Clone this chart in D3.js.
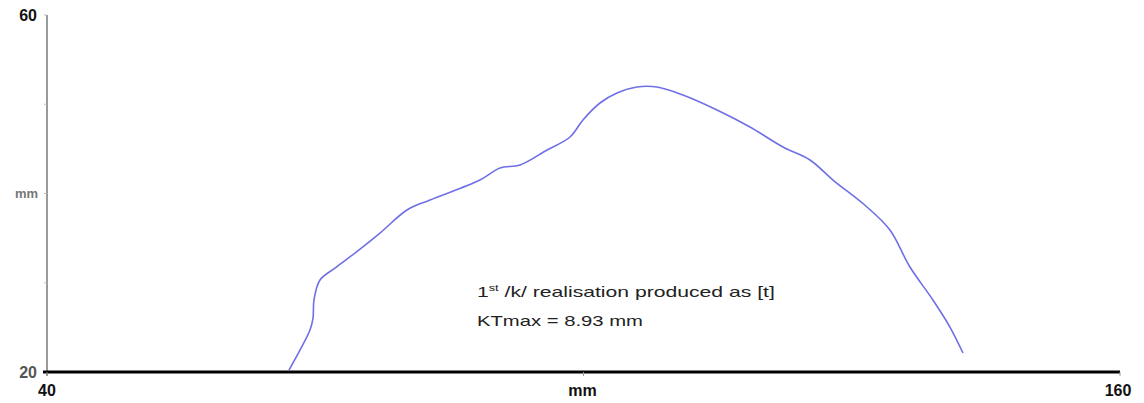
<!DOCTYPE html>
<html><head><meta charset="utf-8">
<script src="https://cdn.jsdelivr.net/npm/d3@7"></script>
<style>body{margin:0;background:#fff}svg{display:block}</style>
</head><body>
<script>
const curveX = [67.06,68.29,69.41,69.75,69.86,70.53,72.21,74.44,77.24,80.26,82.83,88.42,90.66,92.90,95.92,98.49,99.94,101.84,103.74,105.98,108.22,111.12,114.93,118.62,122.31,125.33,127.90,131.70,134.27,136.51,139.08,140.98,142.44];
const curveY = [20.22,22.46,24.71,26.05,28.07,30.31,31.65,33.33,35.57,38.15,39.27,41.51,42.86,43.19,44.87,46.33,48.24,50.14,51.26,51.93,51.93,51.04,49.36,47.45,45.21,43.75,41.51,38.49,35.91,31.76,28.07,25.04,22.13];
const xTicks = [40, 100, 160];
const xTickLabels = ["40", "mm", "160"];
const yTicks = [20, 30, 40, 50, 60];
const yTickLabels = ["20", "", "mm", "", "60"];
const annotation = ["/k/ realisation produced as [t]", "KTmax = 8.93 mm"];

const W = 1144, H = 403;
const svg = d3.select("body").append("svg").attr("width", W).attr("height", H);
const x = d3.scaleLinear().domain([40, 160]).range([47, 1120]);
const y = d3.scaleLinear().domain([20, 60]).range([372, 15]);
const FONT = "Liberation Sans, Arial, sans-serif";

// y axis
svg.append("line").attr("x1", x(40)).attr("x2", x(40)).attr("y1", y(60)).attr("y2", y(20) + 4)
  .attr("stroke", "#9a9a9a").attr("stroke-width", 2);
yTicks.forEach((t, i) => {
  svg.append("line").attr("x1", x(40) - 3).attr("x2", x(40)).attr("y1", y(t)).attr("y2", y(t))
    .attr("stroke", "#bbb").attr("stroke-width", 1);
  const lab = yTickLabels[i];
  if (!lab) return;
  const isMm = lab === "mm";
  svg.append("text").attr("x", x(40) - (isMm ? 9 : 10)).attr("y", y(t) + (isMm ? 4 : 6))
    .attr("text-anchor", "end")
    .attr("font-family", FONT)
    .attr("font-size", isMm ? 13 : 16).attr("font-weight", "bold")
    .attr("fill", isMm ? "#777" : (t === 20 ? "#555" : "#111")).text(lab);
});

// x axis
svg.append("line").attr("x1", x(40) - 4).attr("x2", x(160)).attr("y1", y(20)).attr("y2", y(20))
  .attr("stroke", "#000").attr("stroke-width", 3);
xTicks.forEach((t, i) => {
  svg.append("line").attr("x1", x(t)).attr("x2", x(t)).attr("y1", y(20)).attr("y2", y(20) + 4)
    .attr("stroke", "#999").attr("stroke-width", 1);
  svg.append("text").attr("x", x(t) + (i === 2 ? -2 : (i === 1 ? -1 : 0))).attr("y", y(20) + 24)
    .attr("text-anchor", "middle")
    .attr("font-family", FONT)
    .attr("font-size", 16).attr("font-weight", "bold").attr("fill", "#111").text(xTickLabels[i]);
});

// curve
const pts = curveX.map((v, i) => [v, curveY[i]]);
svg.append("path").datum(pts)
  .attr("d", d3.line().x(d => x(d[0])).y(d => y(d[1])).curve(d3.curveCatmullRom))
  .attr("fill", "none").attr("stroke", "#6f6fe6").attr("stroke-width", 1.6);

// annotation (horizontally stretched like the reference)
function stretch(sel, x0, target) {
  const w = sel.node().getComputedTextLength();
  sel.attr("transform", `translate(${x0},0) scale(${target / w},1) translate(${-x0},0)`);
}
const AF = "Liberation Sans, Arial, sans-serif";
const ta = svg.append("text").attr("x", 477).attr("y", 297)
  .attr("font-family", AF).attr("font-size", 15).attr("fill", "#222");
ta.append("tspan").text("1");
ta.append("tspan").attr("dy", -6).attr("font-size", 9).text("st");
ta.append("tspan").attr("dy", 6).text(" " + annotation[0]);
stretch(ta, 477, 298);
const tb = svg.append("text").attr("x", 477).attr("y", 326)
  .attr("font-family", AF).attr("font-size", 15).attr("fill", "#222")
  .text(annotation[1]);
stretch(tb, 477, 166);
</script>
</body></html>
